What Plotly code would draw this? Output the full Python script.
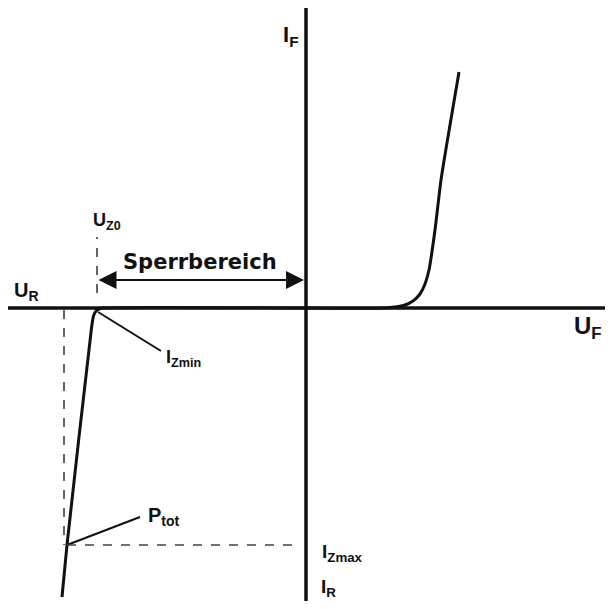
import plotly.graph_objects as go

# Kennlinie einer Z-Diode (willkuerliche Einheiten, Ursprung = Achsenkreuz)
forward_u = [0, 79, 89, 99, 107, 114, 119, 123, 129, 135, 144, 153]
forward_i = [0, 0, 1, 3, 7, 14, 24, 38, 78, 128, 183, 236]

reverse_u = [0, -203, -207, -210, -212.5, -214.5, -239, -244]
reverse_i = [0, 0, -1, -3, -8, -20, -237, -289]

u_z0 = -209
u_ptot = -242
i_zmax = -237
izmin_point = (-208, -4)
ptot_point = (-239, -237)

BLACK = "#111111"
FONT = "Liberation Sans, Arial, sans-serif"

fig = go.Figure()

# Achsen
fig.add_shape(type="line", x0=-303, x1=310, y0=0, y1=0, line=dict(color=BLACK, width=3.5))
fig.add_shape(type="line", x0=0, x1=0, y0=-305, y1=303, line=dict(color=BLACK, width=3.5))

# Hilfslinien
fig.add_shape(type="line", x0=u_z0, x1=u_z0, y0=15, y1=71,
              line=dict(color="#333333", width=1.5, dash="dash"))
fig.add_shape(type="line", x0=u_ptot, x1=u_ptot, y0=-2, y1=i_zmax,
              line=dict(color="#333333", width=1.5, dash="dash"))
fig.add_shape(type="line", x0=ptot_point[0], x1=-5, y0=i_zmax, y1=i_zmax,
              line=dict(color="#444444", width=1.5, dash="dash"))

# Kennlinien
fig.add_trace(go.Scatter(x=forward_u, y=forward_i, mode="lines",
                         line=dict(color=BLACK, width=3, shape="spline", smoothing=0.6),
                         showlegend=False, hoverinfo="skip"))
fig.add_trace(go.Scatter(x=reverse_u, y=reverse_i, mode="lines",
                         line=dict(color=BLACK, width=3, shape="spline", smoothing=0.5),
                         showlegend=False, hoverinfo="skip"))

# Bezugslinien
fig.add_trace(go.Scatter(x=[izmin_point[0], -145], y=[izmin_point[1], -43], mode="lines",
                         line=dict(color=BLACK, width=2), showlegend=False, hoverinfo="skip"))
fig.add_trace(go.Scatter(x=[ptot_point[0], -166], y=[ptot_point[1], -209], mode="lines",
                         line=dict(color=BLACK, width=2), showlegend=False, hoverinfo="skip"))

# Sperrbereich-Pfeil
fig.add_annotation(x=-2, y=28, ax=u_z0, ay=28, xref="x", yref="y", axref="x", ayref="y",
                   text="", showarrow=True, arrowhead=2, arrowsize=1.8, arrowwidth=2,
                   arrowside="end+start", arrowcolor=BLACK)
fig.add_annotation(x=-106, y=46, text="<b>Sperrbereich</b>", showarrow=False,
                   font=dict(family="DejaVu Sans", size=21, color=BLACK))

labels = [
    (-25, 272, "I<sub>F</sub>", 22, "left"),
    (-294, 17, "U<sub>R</sub>", 20, "left"),
    (298, -19, "U<sub>F</sub>", 24, "right"),
    (-215, 87, "U<sub>Z0</sub>", 18, "left"),
    (-142, -50, "I<sub>Zmin</sub>", 18, "left"),
    (-160, -208, "P<sub>tot</sub>", 20, "left"),
    (14, -245, "I<sub>Zmax</sub>", 19, "left"),
    (13, -280, "I<sub>R</sub>", 19, "left"),
]
for x, y, t, s, anchor in labels:
    fig.add_annotation(x=x, y=y, text="<b>" + t + "</b>", showarrow=False,
                       xanchor=anchor, yanchor="middle",
                       font=dict(family=FONT, size=s, color=BLACK))

# sichtbarer Bereich der Seite: 8px Rand links/oben
fig.update_layout(
    width=597, height=593,
    margin=dict(l=0, r=0, t=0, b=0),
    plot_bgcolor="white", paper_bgcolor="white",
    xaxis=dict(range=[-298, 299], visible=False, fixedrange=True),
    yaxis=dict(range=[-293, 300], visible=False, fixedrange=True),
)

fig.write_html("out.html")
